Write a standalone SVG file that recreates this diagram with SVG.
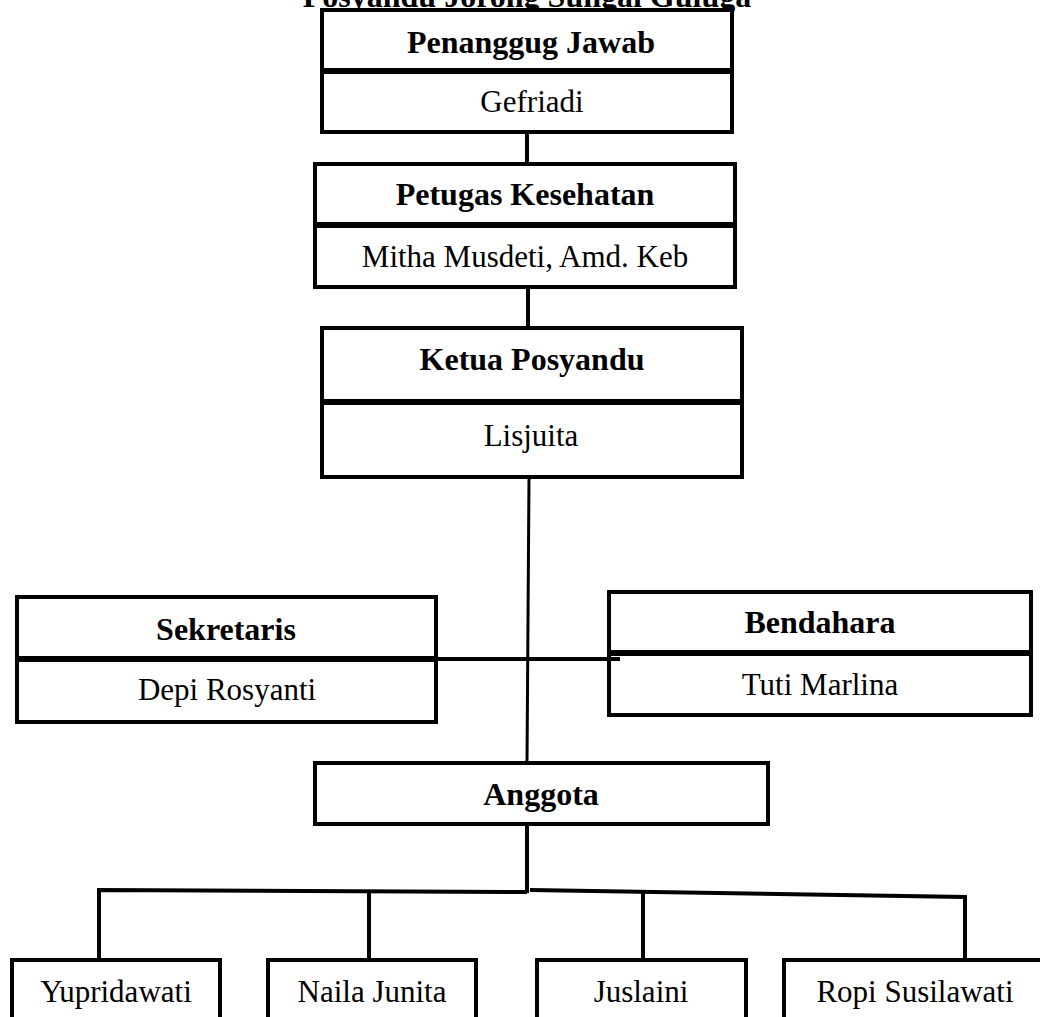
<svg xmlns="http://www.w3.org/2000/svg" width="1040" height="1017" viewBox="0 0 1040 1017">
<style>
.box{fill:#fff;stroke:#000;stroke-width:4}
.div{stroke:#000;stroke-width:6}
.con{stroke:#000;stroke-width:4;fill:none}
.b{font-family:"Liberation Serif","Times New Roman",serif;font-weight:bold;font-size:32px;text-anchor:middle;fill:#000}
.r{font-family:"Liberation Serif","Times New Roman",serif;font-size:31px;text-anchor:middle;fill:#000}
</style>
<rect width="1040" height="1017" fill="#fff"/>
<text class="b" x="527" y="7">Posyandu Jorong Sungai Guluga</text>
<g id="penanggung-jawab">
<rect class="box" x="322" y="10" width="410" height="122"/>
<line class="div" x1="322" y1="71" x2="732" y2="71"/>
<text class="b" x="531" y="53">Penanggug Jawab</text>
<text class="r" x="532" y="112">Gefriadi</text>
</g>
<g id="petugas-kesehatan">
<rect class="box" x="315" y="164" width="420" height="123"/>
<line class="div" x1="315" y1="225" x2="735" y2="225"/>
<text class="b" x="525" y="205">Petugas Kesehatan</text>
<text class="r" x="525" y="267">Mitha Musdeti, Amd. Keb</text>
</g>
<g id="ketua-posyandu">
<rect class="box" x="322" y="328" width="420" height="149"/>
<line class="div" x1="322" y1="402" x2="742" y2="402"/>
<text class="b" x="532" y="370">Ketua Posyandu</text>
<text class="r" x="531" y="446">Lisjuita</text>
</g>
<g id="sekretaris">
<rect class="box" x="17" y="597" width="419" height="125"/>
<line class="div" x1="17" y1="659" x2="436" y2="659"/>
<text class="b" x="226" y="640">Sekretaris</text>
<text class="r" x="227" y="700">Depi Rosyanti</text>
</g>
<g id="bendahara">
<rect class="box" x="609" y="592" width="422" height="123"/>
<line class="div" x1="609" y1="653" x2="1031" y2="653"/>
<text class="b" x="820" y="633">Bendahara</text>
<text class="r" x="820" y="695">Tuti Marlina</text>
</g>
<g id="anggota">
<rect class="box" x="315" y="763" width="453" height="61"/>
<text class="b" x="541" y="805">Anggota</text>
</g>
<g id="yupridawati">
<rect class="box" x="12" y="960" width="208" height="80"/>
<text class="r" x="116" y="1002">Yupridawati</text>
</g>
<g id="naila-junita">
<rect class="box" x="268" y="960" width="208" height="80"/>
<text class="r" x="372" y="1002">Naila Junita</text>
</g>
<g id="juslaini">
<rect class="box" x="537" y="960" width="209" height="80"/>
<text class="r" x="641" y="1002">Juslaini</text>
</g>
<g id="ropi-susilawati">
<rect class="box" x="784" y="960" width="270" height="80"/>
<text class="r" x="915" y="1002">Ropi Susilawati</text>
</g>
<g id="connectors">
<line class="con" x1="527" y1="132" x2="527" y2="164"/>
<line class="con" x1="528" y1="287" x2="528" y2="328"/>
<line class="con" x1="529" y1="477" x2="527" y2="763" style="stroke-width:3"/>
<line class="con" x1="436" y1="659" x2="620" y2="659"/>
<line class="con" x1="527" y1="824" x2="527" y2="893"/>
<polyline class="con" points="99,960 99,890 527,892"/>
<polyline class="con" points="530,890 965,897 965,960"/>
<line class="con" x1="369" y1="891" x2="369" y2="960"/>
<line class="con" x1="643" y1="893" x2="643" y2="960"/>
</g>
</svg>
